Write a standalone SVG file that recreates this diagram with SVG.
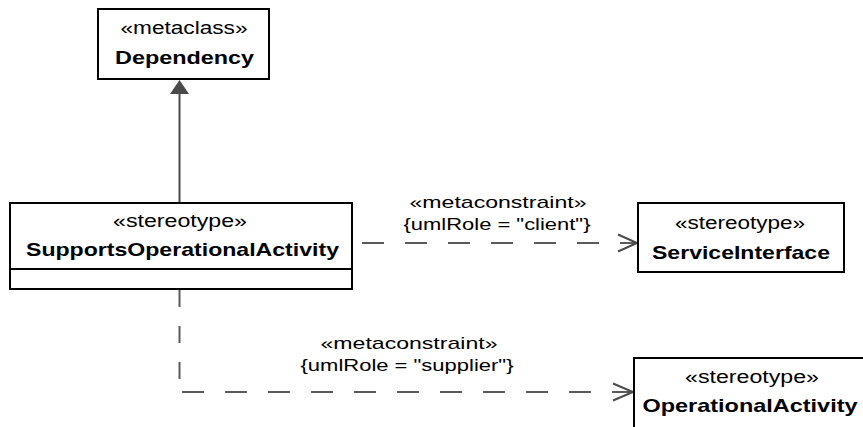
<svg xmlns="http://www.w3.org/2000/svg" width="863" height="427" viewBox="0 0 863 427">
<style>
.box{fill:#fff;stroke:#000;stroke-width:2}
.st{font-family:"Liberation Sans",Arial,sans-serif;font-size:17.5px;fill:#000;text-anchor:middle}
.nm{font-family:"Liberation Sans",Arial,sans-serif;font-size:19px;font-weight:bold;fill:#000;text-anchor:middle}
.lbl{font-family:"Liberation Sans",Arial,sans-serif;font-size:17px;fill:#000;text-anchor:middle}
.dash{fill:none;stroke:#5a5a5a;stroke-width:2}
.open{fill:none;stroke:#4a4a4a;stroke-width:2}
</style>
<rect width="863" height="427" fill="#fff"/>
<g id="connectors">
  <g id="generalization">
    <line x1="179.5" y1="94" x2="179.5" y2="203" stroke="#4a4a4a" stroke-width="2"/>
    <polygon points="179.5,80 170,94 189,94" fill="#4a4a4a"/>
  </g>
  <g id="client-dep">
    <line class="dash" x1="362" y1="243" x2="636" y2="243" stroke-dasharray="22 21"/>
    <polyline class="open" points="618,234.5 637,243 618,251.5"/>
    <text class="lbl" x="498" y="208" textLength="177" lengthAdjust="spacingAndGlyphs">«metaconstraint»</text>
    <text class="lbl" x="497" y="230" textLength="187" lengthAdjust="spacingAndGlyphs">{umlRole = "client"}</text>
  </g>
  <g id="supplier-dep">
    <line class="dash" x1="179.5" y1="290" x2="179.5" y2="392" stroke-dasharray="17 19"/>
    <line class="dash" x1="182" y1="392" x2="632" y2="392" stroke-dasharray="22 21"/>
    <polyline class="open" points="613,383.5 633,392 613,400.5"/>
    <text class="lbl" x="409" y="349" textLength="177" lengthAdjust="spacingAndGlyphs">«metaconstraint»</text>
    <text class="lbl" x="407" y="371" textLength="213" lengthAdjust="spacingAndGlyphs">{umlRole = "supplier"}</text>
  </g>
</g>
<g id="Dependency">
  <rect class="box" x="98" y="9" width="171" height="70"/>
  <text class="st" x="184" y="34" textLength="127" lengthAdjust="spacingAndGlyphs">«metaclass»</text>
  <text class="nm" x="184.5" y="64" textLength="139" lengthAdjust="spacingAndGlyphs">Dependency</text>
</g>
<g id="SupportsOperationalActivity">
  <rect class="box" x="10" y="203" width="342" height="86"/>
  <line x1="10" y1="269" x2="352" y2="269" stroke="#000" stroke-width="2"/>
  <text class="st" x="180" y="227" textLength="134" lengthAdjust="spacingAndGlyphs">«stereotype»</text>
  <text class="nm" x="182.5" y="256" textLength="313" lengthAdjust="spacingAndGlyphs">SupportsOperationalActivity</text>
</g>
<g id="ServiceInterface">
  <rect class="box" x="638" y="203" width="206" height="69"/>
  <text class="st" x="740" y="229" textLength="130" lengthAdjust="spacingAndGlyphs">«stereotype»</text>
  <text class="nm" x="741" y="259" textLength="178" lengthAdjust="spacingAndGlyphs">ServiceInterface</text>
</g>
<g id="OperationalActivity">
  <rect class="box" x="634" y="358" width="240" height="80"/>
  <text class="st" x="752" y="383" textLength="134" lengthAdjust="spacingAndGlyphs">«stereotype»</text>
  <text class="nm" x="750" y="412" textLength="215" lengthAdjust="spacingAndGlyphs">OperationalActivity</text>
</g>
</svg>
